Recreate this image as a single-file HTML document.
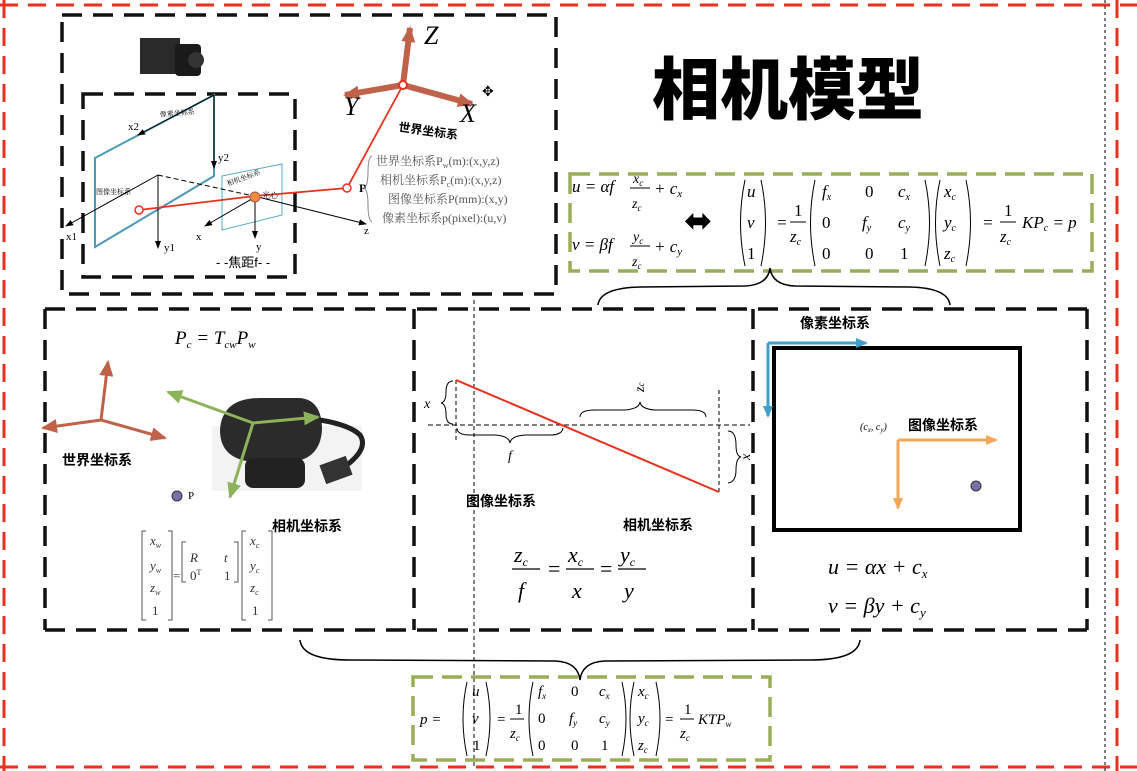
<!DOCTYPE html>
<html><head><meta charset="utf-8"><style>
html,body{margin:0;padding:0;background:#fff}
svg{display:block}
text{font-family:"Liberation Serif","Noto Serif CJK SC",serif}
.cn{font-family:"Liberation Sans","Noto Sans CJK SC",sans-serif}
.it{font-style:italic}
</style></head><body>
<svg width="1137" height="771" viewBox="0 0 1137 771" xmlns="http://www.w3.org/2000/svg">
<defs>
<marker id="ab" markerWidth="8" markerHeight="8" refX="7" refY="4" orient="auto" markerUnits="userSpaceOnUse"><path d="M0,1 L8,4 L0,7z" fill="#000"/></marker>
<marker id="ar" markerWidth="16" markerHeight="16" refX="14" refY="8" orient="auto" markerUnits="userSpaceOnUse"><path d="M0,1 L16,8 L0,15z" fill="#c0624a"/></marker>
<marker id="ag" markerWidth="16" markerHeight="16" refX="14" refY="8" orient="auto" markerUnits="userSpaceOnUse"><path d="M0,1 L16,8 L0,15z" fill="#8db35a"/></marker>
<marker id="abl" markerWidth="12" markerHeight="12" refX="10" refY="6" orient="auto" markerUnits="userSpaceOnUse"><path d="M0,1 L12,6 L0,11z" fill="#3f9fc8"/></marker>
<marker id="aor" markerWidth="12" markerHeight="12" refX="10" refY="6" orient="auto" markerUnits="userSpaceOnUse"><path d="M0,1 L12,6 L0,11z" fill="#f4a65a"/></marker>
</defs>
<g stroke="#e8311e" stroke-width="3" stroke-dasharray="18,10" fill="none">
<line x1="0" y1="5" x2="1137" y2="5"/>
<line x1="0" y1="767" x2="1137" y2="767"/>
<line x1="4" y1="0" x2="4" y2="771"/>
<line x1="1117" y1="0" x2="1117" y2="771"/>
</g>
<line x1="1105" y1="0" x2="1105" y2="771" stroke="#000" stroke-width="1" stroke-dasharray="3,3"/>
<line x1="474" y1="300" x2="474" y2="767" stroke="#000" stroke-width="1" stroke-dasharray="4,3"/>
<g stroke="#111" stroke-width="3.5" stroke-dasharray="20,11" fill="none">
<rect x="62" y="15" width="494" height="279"/>
<rect x="83" y="94" width="212" height="183"/>
<line x1="45" y1="309" x2="1087" y2="309"/>
<line x1="45" y1="630" x2="1087" y2="630"/>
<line x1="45" y1="309" x2="45" y2="630"/>
<line x1="414" y1="309" x2="414" y2="630"/>
<line x1="753" y1="309" x2="753" y2="630"/>
<line x1="1087" y1="309" x2="1087" y2="630"/>
</g>
<g stroke="#9aae5a" stroke-width="3.5" stroke-dasharray="20,9" fill="none">
<rect x="570" y="174" width="522" height="97"/>
<rect x="413" y="677" width="357" height="83"/>
</g>
<path d="M598,305 Q600,288 640,287 L745,286 Q768,285 770,268 Q772,285 795,286 L910,287 Q948,288 950,305" stroke="#000" stroke-width="1.5" fill="none"/>
<path d="M300,640 Q302,660 350,660 L555,661 Q578,662 580,680 Q582,662 605,661 L810,660 Q858,660 860,640" stroke="#000" stroke-width="1.5" fill="none"/>
<text x="652" y="114" class="cn" font-size="68" font-weight="900">相机模型</text>

<rect x="140" y="38" width="40" height="36" fill="#2a2a2a"/>
<rect x="175" y="44" width="26" height="32" rx="4" fill="#1a1a1a"/>
<circle cx="196" cy="60" r="8" fill="#333"/>
<path d="M95,158 L214,95 L214,176 L95,247z" stroke="#4a9ab8" stroke-width="2" fill="none"/>
<path d="M222,176 L282,164 L282,215 L222,230z" stroke="#5aaac8" stroke-width="1" fill="none"/>
<line x1="214" y1="95" x2="138" y2="135" stroke="#000" stroke-width="1" marker-end="url(#ab)"/>
<line x1="214" y1="95" x2="214" y2="168" stroke="#000" stroke-width="1" marker-end="url(#ab)"/>
<line x1="158" y1="175" x2="66" y2="226" stroke="#000" stroke-width="1" marker-end="url(#ab)"/>
<line x1="158" y1="175" x2="158" y2="248" stroke="#000" stroke-width="1" marker-end="url(#ab)"/>
<line x1="158" y1="175" x2="258" y2="197" stroke="#000" stroke-width="1" stroke-dasharray="5,3"/>
<line x1="258" y1="197" x2="366" y2="224" stroke="#000" stroke-width="1" marker-end="url(#ab)"/>
<line x1="255" y1="197" x2="205" y2="226" stroke="#000" stroke-width="1" marker-end="url(#ab)"/>
<line x1="255" y1="197" x2="255" y2="238" stroke="#000" stroke-width="1" marker-end="url(#ab)"/>
<polyline points="139,210 255,196 347,188 403,85" stroke="#e8311e" stroke-width="1.8" fill="none"/>
<circle cx="139" cy="210" r="4" fill="#fff" stroke="#e8311e" stroke-width="1.5"/>
<circle cx="347" cy="188" r="4" fill="#fff" stroke="#e8311e" stroke-width="1.5"/>
<circle cx="255" cy="197" r="5" fill="#f08c3a" stroke="#a55" stroke-width="1"/>
<g class="cn">
<text x="160" y="117" font-size="7" transform="rotate(-5 160 117)">像素坐标系</text>
<text x="96" y="194" font-size="7">图像坐标系</text>
<text x="228" y="186" font-size="7" transform="rotate(-20 228 186)">相机坐标系</text>
<text x="262" y="198" font-size="8">光心</text>
</g>
<g font-size="11">
<text x="128" y="130">x2</text><text x="218" y="161">y2</text>
<text x="66" y="240">x1</text><text x="164" y="251">y1</text>
<text x="196" y="240">x</text><text x="256" y="250">y</text><text x="364" y="234">z</text>
<text x="359" y="192" font-weight="bold" font-size="12">P</text>
</g>
<text x="216" y="267" font-size="13" class="cn">- -焦距f- -</text>
<g stroke="#c0624a" stroke-width="6" fill="none">
<line x1="403" y1="85" x2="410" y2="28" marker-end="url(#ar)"/>
<line x1="403" y1="85" x2="345" y2="95" marker-end="url(#ar)"/>
<line x1="403" y1="85" x2="472" y2="104" marker-end="url(#ar)"/>
</g>
<circle cx="403" cy="85" r="4" fill="#fff" stroke="#e8311e" stroke-width="2"/>
<g font-size="26" class="it"><text x="424" y="44">Z</text><text x="344" y="115">Y</text><text x="460" y="122">X</text></g>
<text x="398" y="131" font-size="12" class="cn" font-weight="bold" transform="rotate(8 398 131)">世界坐标系</text>
<text x="482" y="96" font-size="14">✥</text>
<path d="M372,156 Q368,157 368,172 Q368,186 364,188 Q368,190 368,205 Q368,220 372,222" stroke="#888" fill="none"/>
<g font-size="12" fill="#555" class="cn">
<text x="376" y="165">世界坐标系P<tspan font-size="8" dy="3">w</tspan><tspan dy="-3">(m):(x,y,z)</tspan></text>
<text x="380" y="184">相机坐标系P<tspan font-size="8" dy="3">c</tspan><tspan dy="-3">(m):(x,y,z)</tspan></text>
<text x="388" y="203">图像坐标系P(mm):(x,y)</text>
<text x="382" y="222">像素坐标系p(pixel):(u,v)</text>
</g>

<g font-size="17" class="it">
<text x="572" y="192">u = αf</text><text x="633" y="183" font-size="14">x<tspan font-size="9" dy="3">c</tspan></text><text x="632" y="208" font-size="14">z<tspan font-size="9" dy="3">c</tspan></text>
<line x1="630" y1="188" x2="650" y2="188" stroke="#000"/><text x="654" y="194">+ c<tspan font-size="11" dy="3">x</tspan></text>
<text x="572" y="250">v = βf</text><text x="633" y="241" font-size="14">y<tspan font-size="9" dy="3">c</tspan></text><text x="632" y="266" font-size="14">z<tspan font-size="9" dy="3">c</tspan></text>
<line x1="630" y1="246" x2="650" y2="246" stroke="#000"/><text x="654" y="252">+ c<tspan font-size="11" dy="3">y</tspan></text>
</g>
<text x="684" y="232" font-size="34">⬌</text>
<g font-size="17" class="it">
<path d="M745,180 Q736,222 745,266" stroke="#000" fill="none"/><path d="M761,180 Q770,222 761,266" stroke="#000" fill="none"/>
<text x="747" y="197">u</text><text x="747" y="228">v</text><text x="747" y="259" font-style="normal">1</text>
<text x="776" y="228">=</text>
<text x="794" y="216" font-style="normal">1</text><line x1="790" y1="222" x2="806" y2="222" stroke="#000"/><text x="790" y="242">z<tspan font-size="10" dy="3">c</tspan></text>
<path d="M815,180 Q806,222 815,266" stroke="#000" fill="none"/><path d="M925,180 Q934,222 925,266" stroke="#000" fill="none"/>
<text x="822" y="197">f<tspan font-size="10" dy="3">x</tspan></text><text x="865" y="197" font-style="normal">0</text><text x="898" y="197">c<tspan font-size="10" dy="3">x</tspan></text>
<text x="822" y="228" font-style="normal">0</text><text x="862" y="228">f<tspan font-size="10" dy="3">y</tspan></text><text x="898" y="228">c<tspan font-size="10" dy="3">y</tspan></text>
<text x="822" y="259" font-style="normal">0</text><text x="865" y="259" font-style="normal">0</text><text x="900" y="259" font-style="normal">1</text>
<path d="M940,180 Q931,222 940,266" stroke="#000" fill="none"/><path d="M966,180 Q975,222 966,266" stroke="#000" fill="none"/>
<text x="944" y="197">x<tspan font-size="10" dy="3">c</tspan></text><text x="944" y="228">y<tspan font-size="10" dy="3">c</tspan></text><text x="944" y="259">z<tspan font-size="10" dy="3">c</tspan></text>
<text x="982" y="228">=</text>
<text x="1004" y="216" font-style="normal">1</text><line x1="1000" y1="222" x2="1016" y2="222" stroke="#000"/><text x="1000" y="242">z<tspan font-size="10" dy="3">c</tspan></text>
<text x="1022" y="228">KP<tspan font-size="10" dy="3">c</tspan><tspan dy="-3"> = p</tspan></text>
</g>

<text x="175" y="344" font-size="19" class="it">P<tspan font-size="11" dy="4">c</tspan><tspan dy="-4"> = T</tspan><tspan font-size="11" dy="4">cw</tspan><tspan dy="-4">P</tspan><tspan font-size="11" dy="4">w</tspan></text>
<g stroke="#c0624a" stroke-width="3" fill="none">
<line x1="101" y1="420" x2="108" y2="362" marker-end="url(#ar)"/>
<line x1="101" y1="420" x2="43" y2="428" marker-end="url(#ar)"/>
<line x1="101" y1="420" x2="165" y2="438" marker-end="url(#ar)"/>
</g>
<text x="62" y="465" font-size="14" font-weight="bold" class="cn">世界坐标系</text>
<rect x="212" y="426" width="150" height="65" fill="#f3f3f3"/>
<path d="M220,430 Q222,398 260,398 L300,398 Q322,400 322,430 Q320,460 290,462 L255,462 Q220,460 220,430z" fill="#2b2b2b"/>
<rect x="245" y="458" width="60" height="30" rx="8" fill="#222"/>
<path d="M320,420 Q350,425 360,435 Q370,450 340,470" stroke="#222" stroke-width="5" fill="none"/>
<rect x="322" y="460" width="28" height="20" fill="#333" transform="rotate(-20 336 470)"/>
<g stroke="#8db35a" stroke-width="3" fill="none">
<line x1="253" y1="423" x2="168" y2="392" marker-end="url(#ag)"/>
<line x1="253" y1="423" x2="318" y2="417" marker-end="url(#ag)"/>
<line x1="253" y1="423" x2="230" y2="497" marker-end="url(#ag)"/>
</g>
<circle cx="177" cy="496" r="5" fill="#7a70a8" stroke="#333"/>
<text x="188" y="499" font-size="11">P</text>
<text x="272" y="531" font-size="14" font-weight="bold" class="cn">相机坐标系</text>
<g font-size="13" class="it" fill="#333">
<path d="M146,531 h-4 v89 h4 M168,531 h4 v89 h-4 M186,542 h-4 v40 h4 M234,542 h4 v40 h-4 M246,531 h-4 v89 h4 M268,531 h4 v89 h-4" stroke="#555" fill="none"/>
<text x="150" y="545">x<tspan font-size="8" dy="3">w</tspan></text><text x="150" y="570">y<tspan font-size="8" dy="3">w</tspan></text><text x="150" y="592">z<tspan font-size="8" dy="3">w</tspan></text><text x="152" y="615" font-style="normal">1</text>
<text x="173" y="580" font-style="normal">=</text>
<text x="190" y="562">R</text><text x="224" y="562">t</text><text x="190" y="580" font-style="normal">0<tspan font-size="8" dy="-5">T</tspan></text><text x="224" y="580" font-style="normal">1</text>
<text x="250" y="545">x<tspan font-size="8" dy="3">c</tspan></text><text x="250" y="570">y<tspan font-size="8" dy="3">c</tspan></text><text x="250" y="592">z<tspan font-size="8" dy="3">c</tspan></text><text x="252" y="615" font-style="normal">1</text>
</g>

<line x1="428" y1="425" x2="750" y2="425" stroke="#000" stroke-width="1" stroke-dasharray="5,3"/>
<line x1="456" y1="380" x2="456" y2="440" stroke="#000" stroke-width="1" stroke-dasharray="4,3"/>
<line x1="719" y1="390" x2="719" y2="493" stroke="#000" stroke-width="1" stroke-dasharray="4,3"/>
<line x1="456" y1="380" x2="719" y2="492" stroke="#e8311e" stroke-width="2"/>
<g stroke="#000" stroke-width="1" fill="none">
<path d="M453,381 Q446,381 446,392 Q446,402 441,403 Q446,404 446,414 Q446,424 453,424"/>
<path d="M457,428 Q457,435 470,435 L495,435 Q509,436 510,443 Q511,436 525,435 L550,435 Q562,435 563,428"/>
<path d="M580,417 Q580,410 595,410 L625,410 Q639,409 640,402 Q641,409 655,410 L692,410 Q706,410 706,417"/>
<path d="M728,431 Q736,431 736,445 Q736,456 741,457 Q736,458 736,470 Q736,482 728,483"/>
</g>
<g font-size="14" class="it"><text x="424" y="408">x</text><text x="508" y="460">f</text><text x="636" y="392" transform="rotate(-90 640 388)">z<tspan font-size="9">c</tspan></text><text x="744" y="462" transform="rotate(-90 746 458)">x</text></g>
<text x="466" y="506" font-size="14" font-weight="bold" class="cn">图像坐标系</text>
<text x="623" y="530" font-size="14" font-weight="bold" class="cn">相机坐标系</text>
<g font-size="22" class="it">
<text x="514" y="562">z<tspan font-size="12" dy="4">c</tspan></text><line x1="512" y1="569" x2="540" y2="569" stroke="#000" stroke-width="1.2"/><text x="518" y="598">f</text>
<text x="548" y="576" font-style="normal">=</text>
<text x="568" y="562">x<tspan font-size="12" dy="4">c</tspan></text><line x1="566" y1="569" x2="594" y2="569" stroke="#000" stroke-width="1.2"/><text x="572" y="598">x</text>
<text x="600" y="576" font-style="normal">=</text>
<text x="620" y="562">y<tspan font-size="12" dy="4">c</tspan></text><line x1="618" y1="569" x2="646" y2="569" stroke="#000" stroke-width="1.2"/><text x="624" y="598">y</text>
</g>

<rect x="774" y="348" width="246" height="182" stroke="#000" stroke-width="4" fill="none"/>
<g stroke="#3f9fc8" stroke-width="3" fill="none">
<line x1="768" y1="343" x2="866" y2="343" marker-end="url(#abl)"/>
<line x1="768" y1="343" x2="768" y2="416" marker-end="url(#abl)"/>
</g>
<text x="800" y="328" font-size="14" font-weight="bold" class="cn">像素坐标系</text>
<g stroke="#f4a65a" stroke-width="3" fill="none">
<line x1="898" y1="440" x2="996" y2="440" marker-end="url(#aor)"/>
<line x1="898" y1="440" x2="898" y2="508" marker-end="url(#aor)"/>
</g>
<circle cx="976" cy="486" r="5" fill="#7a70a8" stroke="#333"/>
<text x="860" y="430" font-size="10" class="it">(c<tspan font-size="7" dy="2">x</tspan><tspan dy="-2">, c</tspan><tspan font-size="7" dy="2">y</tspan><tspan dy="-2">)</tspan></text>
<text x="908" y="430" font-size="14" font-weight="bold" class="cn">图像坐标系</text>
<g font-size="22" class="it">
<text x="828" y="574">u = αx + c<tspan font-size="13" dy="4">x</tspan></text>
<text x="828" y="613">v = βy + c<tspan font-size="13" dy="4">y</tspan></text>
</g>

<g font-size="15" class="it">
<text x="420" y="724">p =</text>
<path d="M467,682 Q459,718 467,756" stroke="#000" fill="none"/><path d="M486,682 Q494,718 486,756" stroke="#000" fill="none"/>
<text x="472" y="696">u</text><text x="472" y="723">v</text><text x="473" y="750" font-style="normal">1</text>
<text x="496" y="724">=</text>
<text x="515" y="714" font-style="normal">1</text><line x1="510" y1="719" x2="524" y2="719" stroke="#000"/><text x="510" y="738">z<tspan font-size="9" dy="3">c</tspan></text>
<path d="M533,682 Q525,718 533,756" stroke="#000" fill="none"/><path d="M622,682 Q630,718 622,756" stroke="#000" fill="none"/>
<text x="538" y="696">f<tspan font-size="9" dy="3">x</tspan></text><text x="571" y="696" font-style="normal">0</text><text x="599" y="696">c<tspan font-size="9" dy="3">x</tspan></text>
<text x="538" y="723" font-style="normal">0</text><text x="569" y="723">f<tspan font-size="9" dy="3">y</tspan></text><text x="599" y="723">c<tspan font-size="9" dy="3">y</tspan></text>
<text x="538" y="750" font-style="normal">0</text><text x="571" y="750" font-style="normal">0</text><text x="601" y="750" font-style="normal">1</text>
<path d="M634,682 Q626,718 634,756" stroke="#000" fill="none"/><path d="M656,682 Q664,718 656,756" stroke="#000" fill="none"/>
<text x="638" y="696">x<tspan font-size="9" dy="3">c</tspan></text><text x="638" y="723">y<tspan font-size="9" dy="3">c</tspan></text><text x="638" y="750">z<tspan font-size="9" dy="3">c</tspan></text>
<text x="664" y="724">=</text>
<text x="684" y="714" font-style="normal">1</text><line x1="680" y1="719" x2="694" y2="719" stroke="#000"/><text x="680" y="738">z<tspan font-size="9" dy="3">c</tspan></text>
<text x="698" y="724">KTP<tspan font-size="9" dy="3">w</tspan></text>
</g>
</svg>
</body></html>
